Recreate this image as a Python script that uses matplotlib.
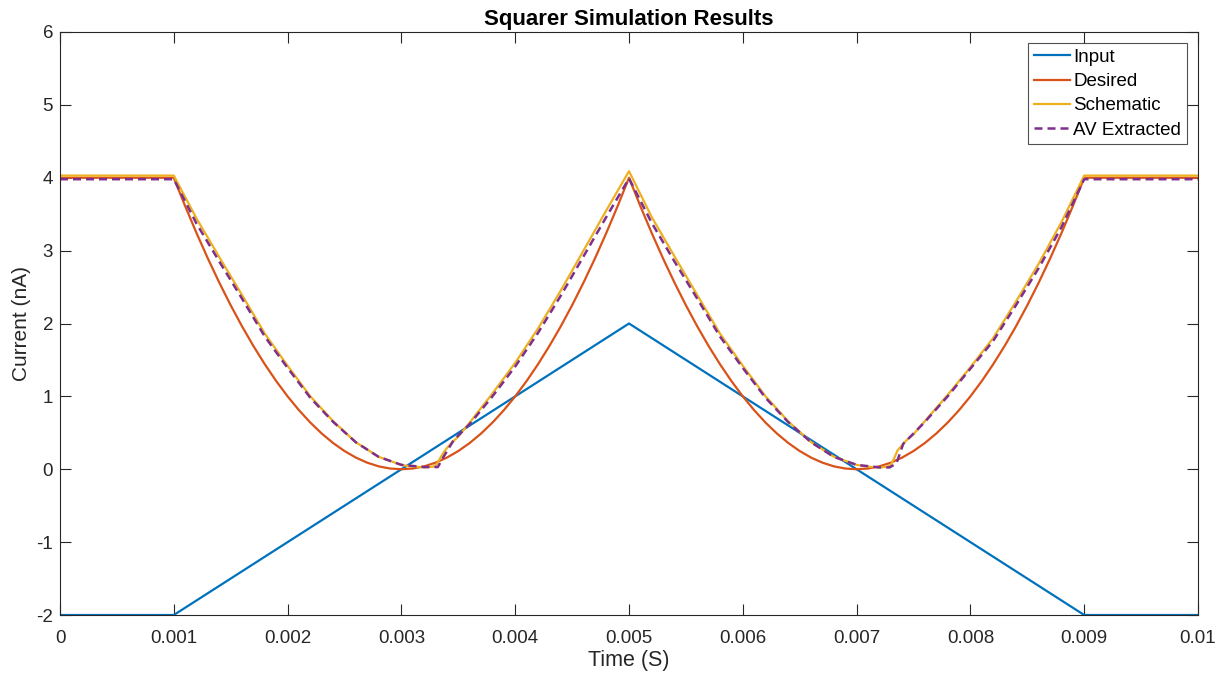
import matplotlib
matplotlib.use("Agg")
import matplotlib.pyplot as plt

plt.rcParams['font.family'] = ['Liberation Sans', 'DejaVu Sans']

# ---- data ----
input_t = [0.0, 0.001, 0.005, 0.009, 0.01]
input_v = [-2.0, -2.0, 2.0, -2.0, -2.0]

desired_t = [0.0, 0.001, 0.0011, 0.0012, 0.0013, 0.0014, 0.0015, 0.0016, 0.0017, 0.0018, 0.0019,
             0.002, 0.0021, 0.0022, 0.0023, 0.0024, 0.0025, 0.0026, 0.0027, 0.0028, 0.0029,
             0.003, 0.0031, 0.0032, 0.0033, 0.0034, 0.0035, 0.0036, 0.0037, 0.0038, 0.0039,
             0.004, 0.0041, 0.0042, 0.0043, 0.0044, 0.0045, 0.0046, 0.0047, 0.0048, 0.0049,
             0.005, 0.0051, 0.0052, 0.0053, 0.0054, 0.0055, 0.0056, 0.0057, 0.0058, 0.0059,
             0.006, 0.0061, 0.0062, 0.0063, 0.0064, 0.0065, 0.0066, 0.0067, 0.0068, 0.0069,
             0.007, 0.0071, 0.0072, 0.0073, 0.0074, 0.0075, 0.0076, 0.0077, 0.0078, 0.0079,
             0.008, 0.0081, 0.0082, 0.0083, 0.0084, 0.0085, 0.0086, 0.0087, 0.0088, 0.0089,
             0.009, 0.01]
desired_v = [4.0, 4.0, 3.61, 3.24, 2.89, 2.56, 2.25, 1.96, 1.69, 1.44, 1.21,
             1.0, 0.81, 0.64, 0.49, 0.36, 0.25, 0.16, 0.09, 0.04, 0.01,
             0.0, 0.01, 0.04, 0.09, 0.16, 0.25, 0.36, 0.49, 0.64, 0.81,
             1.0, 1.21, 1.44, 1.69, 1.96, 2.25, 2.56, 2.89, 3.24, 3.61,
             4.0, 3.61, 3.24, 2.89, 2.56, 2.25, 1.96, 1.69, 1.44, 1.21,
             1.0, 0.81, 0.64, 0.49, 0.36, 0.25, 0.16, 0.09, 0.04, 0.01,
             0.0, 0.01, 0.04, 0.09, 0.16, 0.25, 0.36, 0.49, 0.64, 0.81,
             1.0, 1.21, 1.44, 1.69, 1.96, 2.25, 2.56, 2.89, 3.24, 3.61,
             4.0, 4.0]

schem_t = [0.0, 0.001, 0.0012, 0.0014, 0.0016, 0.0018, 0.002, 0.0022, 0.0024, 0.0026, 0.0028,
           0.003, 0.0031, 0.0032, 0.00328, 0.00331, 0.00334, 0.00337, 0.0034, 0.00344, 0.0035,
           0.0036, 0.0038, 0.004, 0.0042, 0.0044, 0.0046, 0.0048, 0.005,
           0.0052, 0.0054, 0.0056, 0.0058, 0.006, 0.0062, 0.0064, 0.0066, 0.0068,
           0.007, 0.0071, 0.0072, 0.00727, 0.0073, 0.00733, 0.00736, 0.0074, 0.00744, 0.0075,
           0.0076, 0.0078, 0.008, 0.0082, 0.0084, 0.0086, 0.0088, 0.009, 0.01]
schem_v = [4.03, 4.03, 3.44, 2.91, 2.39, 1.86, 1.42, 1.0, 0.66, 0.37, 0.17,
           0.06, 0.035, 0.025, 0.035, 0.07, 0.15, 0.23, 0.29, 0.36, 0.45,
           0.64, 1.04, 1.46, 1.93, 2.45, 3.0, 3.55, 4.09,
           3.46, 2.92, 2.39, 1.86, 1.42, 1.0, 0.656, 0.372, 0.172,
           0.06, 0.035, 0.025, 0.035, 0.06, 0.15, 0.26, 0.33, 0.40, 0.48,
           0.66, 1.02, 1.40, 1.80, 2.30, 2.82, 3.39, 4.03, 4.03]

av_t = [0.0, 0.001, 0.0012, 0.0014, 0.0016, 0.0018, 0.002, 0.0022, 0.0024, 0.0026, 0.0028,
        0.003, 0.0032, 0.00332, 0.00337, 0.00346, 0.0036, 0.0038, 0.004, 0.0042, 0.0044,
        0.0046, 0.0048, 0.005, 0.0052, 0.0054, 0.0056, 0.0058, 0.006, 0.0062, 0.0064,
        0.0066, 0.0068, 0.007, 0.0072, 0.00729, 0.00735, 0.00741, 0.0075, 0.0076, 0.0078,
        0.008, 0.0082, 0.0084, 0.0086, 0.0088, 0.009, 0.01]
av_v = [3.98, 3.98, 3.37, 2.85, 2.34, 1.82, 1.39, 0.98, 0.65, 0.37, 0.17,
        0.06, 0.03, 0.03, 0.17, 0.40, 0.62, 1.0, 1.41, 1.87, 2.38,
        2.92, 3.46, 3.99, 3.38, 2.85, 2.34, 1.82, 1.39, 0.98, 0.645,
        0.37, 0.17, 0.06, 0.025, 0.025, 0.08, 0.35, 0.49, 0.65, 1.0,
        1.38, 1.76, 2.25, 2.76, 3.32, 3.98, 3.98]

x_ticks = [0, 0.001, 0.002, 0.003, 0.004, 0.005, 0.006, 0.007, 0.008, 0.009, 0.01]
x_tick_labels = ['0', '0.001', '0.002', '0.003', '0.004', '0.005', '0.006', '0.007', '0.008', '0.009', '0.01']
y_ticks = [-2, -1, 0, 1, 2, 3, 4, 5, 6]
y_tick_labels = ['-2', '-1', '0', '1', '2', '3', '4', '5', '6']

# ---- figure ----
fig = plt.figure(figsize=(12.32, 6.79), dpi=100)
ax = fig.add_axes([60 / 1232, 64 / 679, 1138 / 1232, 583 / 679])

lw = 1.6
ax.plot(input_t, input_v, color='#0072BD', lw=lw, label='Input')
ax.plot(desired_t, desired_v, color='#D95319', lw=lw, label='Desired')
ax.plot(schem_t, schem_v, color='#EDB120', lw=lw, label='Schematic')
ax.plot(av_t, av_v, color='#7E2F8E', lw=1.8, ls=(0, (3.2, 2.0)), label='AV Extracted')

ax.set_xlim(0, 0.01)
ax.set_ylim(-2, 6)
ax.set_xticks(x_ticks)
ax.set_xticklabels(x_tick_labels)
ax.set_yticks(y_ticks)
ax.set_yticklabels(y_tick_labels)

edge = '#262626'
for s in ax.spines.values():
    s.set_color(edge)
    s.set_linewidth(0.8)
ax.tick_params(direction='in', length=8, width=0.8, color=edge, labelcolor=edge,
               labelsize=13.5, top=True, right=True)
ax.tick_params(axis='x', pad=11)
ax.tick_params(axis='y', pad=5)

ax.set_xlabel('Time (S)', fontsize=15.5, color=edge, labelpad=2)
ax.set_ylabel('Current (nA)', fontsize=15, color=edge, labelpad=4)
ax.set_title('Squarer Simulation Results', fontsize=16, fontweight='bold', color='black', pad=5)

leg = ax.legend(loc='upper right', fontsize=13.5, frameon=True, fancybox=False,
                handlelength=1.9, handletextpad=0.2, borderpad=0.3, labelspacing=0.38,
                borderaxespad=0.6)
leg.get_frame().set_edgecolor(edge)
leg.get_frame().set_linewidth(0.8)

fig.savefig('out.png', dpi=100)
